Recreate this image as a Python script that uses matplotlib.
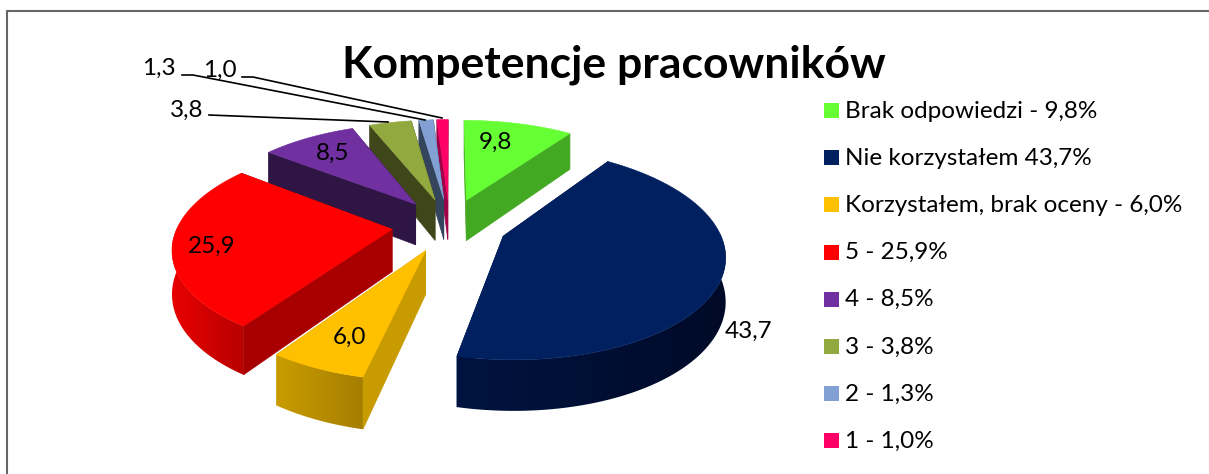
import numpy as np
import matplotlib
matplotlib.use('Agg')
import matplotlib.pyplot as plt
from matplotlib.colors import LinearSegmentedColormap
from matplotlib.patches import Polygon, Rectangle

title = 'Kompetencje pracowników'
values = [9.8, 43.7, 6.0, 25.9, 8.5, 3.8, 1.3, 1.0]
point_labels = ['9,8', '43,7', '6,0', '25,9', '8,5', '3,8', '1,3', '1,0']
legend_labels = ['Brak odpowiedzi - 9,8%', 'Nie korzystałem 43,7%',
                 'Korzystałem, brak oceny - 6,0%', '5 - 25,9%', '4 - 8,5%',
                 '3 - 3,8%', '2 - 1,3%', '1 - 1,0%']
top_colors = ['#66ff33', '#002060', '#ffc000', '#ff0000', '#7030a0', '#92a93f', '#83a0d4', '#ff0066']
face_colors = ['#43a822', '#001a4e', '#c89b00', '#a80000', '#2e1543', '#3f461a', '#34445c', '#a00048']
wall_left = ['#43a822', '#001440', '#c99c00', '#e80000', '#4a2270', '#5e6e28', '#556a8c', '#a00048']
wall_right = ['#43a822', '#000a28', '#a67e00', '#b80000', '#4a2270', '#5e6e28', '#556a8c', '#a00048']
label_pos = [(495, 142), (749, 331), (350, 337), (212, 246), (333, 153), (187, 110), (159, 68), (220, 70)]
leaders = {5: [(209, 115), (388, 122)],
           6: [(182, 75), (193, 75), (425, 120)],
           7: [(242, 77), (253, 77), (442, 118)]}

# view of the pie, in pixels
CX, CY = 449.5, 225
R, TILT, PERSP = 214, 0.467, 0.16
EXPLODE = 0.27
H = 42


def project(u, v, z=0.0):
    s = 1 / (1 + PERSP * v)
    return CX + R * u * s, CY - R * TILT * v * s + z * s


fig = plt.figure(figsize=(12.09, 4.74), dpi=100)
ax = fig.add_axes([0, 0, 1, 1])
plt.rcParams['font.family'] = ['Lato', 'DejaVu Sans']

ax.plot([6.5, 6.5, 1209], [474, 10.5, 10.5], color='#666666', lw=1.5, zorder=1)

edges = np.cumsum([0] + values) / 100 * 2 * np.pi
order = [7, 6, 5, 4, 0, 3, 2, 1]  # back to front
z = 2
for i in order:
    a0, a1 = edges[i], edges[i + 1]
    mid = (a0 + a1) / 2
    du, dv = EXPLODE * np.sin(mid), EXPLODE * np.cos(mid)
    th = np.linspace(a0, a1, max(int((a1 - a0) * 60), 6))
    u = du + np.sin(th)
    v = dv + np.cos(th)

    # the two cut faces
    for a in (a0, a1):
        p = [project(du, dv), project(du + np.sin(a), dv + np.cos(a)),
             project(du + np.sin(a), dv + np.cos(a), H), project(du, dv, H)]
        ax.add_patch(Polygon(p, closed=True, fc=face_colors[i], ec=face_colors[i], lw=0.5, zorder=z))
    z += 1

    # outer wall, only the part turned towards us
    front = np.cos(th) < 0.03
    if front.sum() > 1:
        upper = [project(a, b) for a, b in zip(u[front], v[front])]
        lower = [project(a, b, H) for a, b in zip(u[front], v[front])]
        wall = np.array(upper + lower[::-1])
        shape = Polygon(wall, closed=True, fc='none', ec='none', zorder=z)
        ax.add_patch(shape)
        cmap = LinearSegmentedColormap.from_list('wall', [wall_left[i], wall_right[i]])
        im = ax.imshow(np.linspace(0, 1, 256).reshape(1, -1), cmap=cmap, aspect='auto', zorder=z,
                       extent=(wall[:, 0].min(), wall[:, 0].max(), wall[:, 1].max(), wall[:, 1].min()))
        im.set_clip_path(shape)
    z += 1

    # top
    p = [project(du, dv)] + [project(a, b) for a, b in zip(u, v)]
    ax.add_patch(Polygon(p, closed=True, fc=top_colors[i], ec=top_colors[i], lw=0.4, zorder=z))
    z += 1

for i, lab in enumerate(point_labels):
    ax.text(label_pos[i][0], label_pos[i][1], lab, fontsize=17.5, color='black',
            ha='center', va='center', zorder=50)

for i, pts in leaders.items():
    ax.plot([a for a, b in pts], [b for a, b in pts], color='black', lw=1.2, zorder=40)

ax.text(614, 77, title, fontsize=32, fontweight='bold', ha='center', va='baseline', color='black', zorder=50)

for i, lab in enumerate(legend_labels):
    y = 103 + i * 47.2
    ax.add_patch(Rectangle((824, y), 15, 15, fc=top_colors[i], ec='none', zorder=50))
    ax.text(845, y + 14.5, lab, fontsize=17.5, color='black', ha='left', va='baseline', zorder=50)

ax.set_xlim(0, 1209)
ax.set_ylim(474, 0)
ax.axis('off')
fig.savefig('out.png', dpi=100)
